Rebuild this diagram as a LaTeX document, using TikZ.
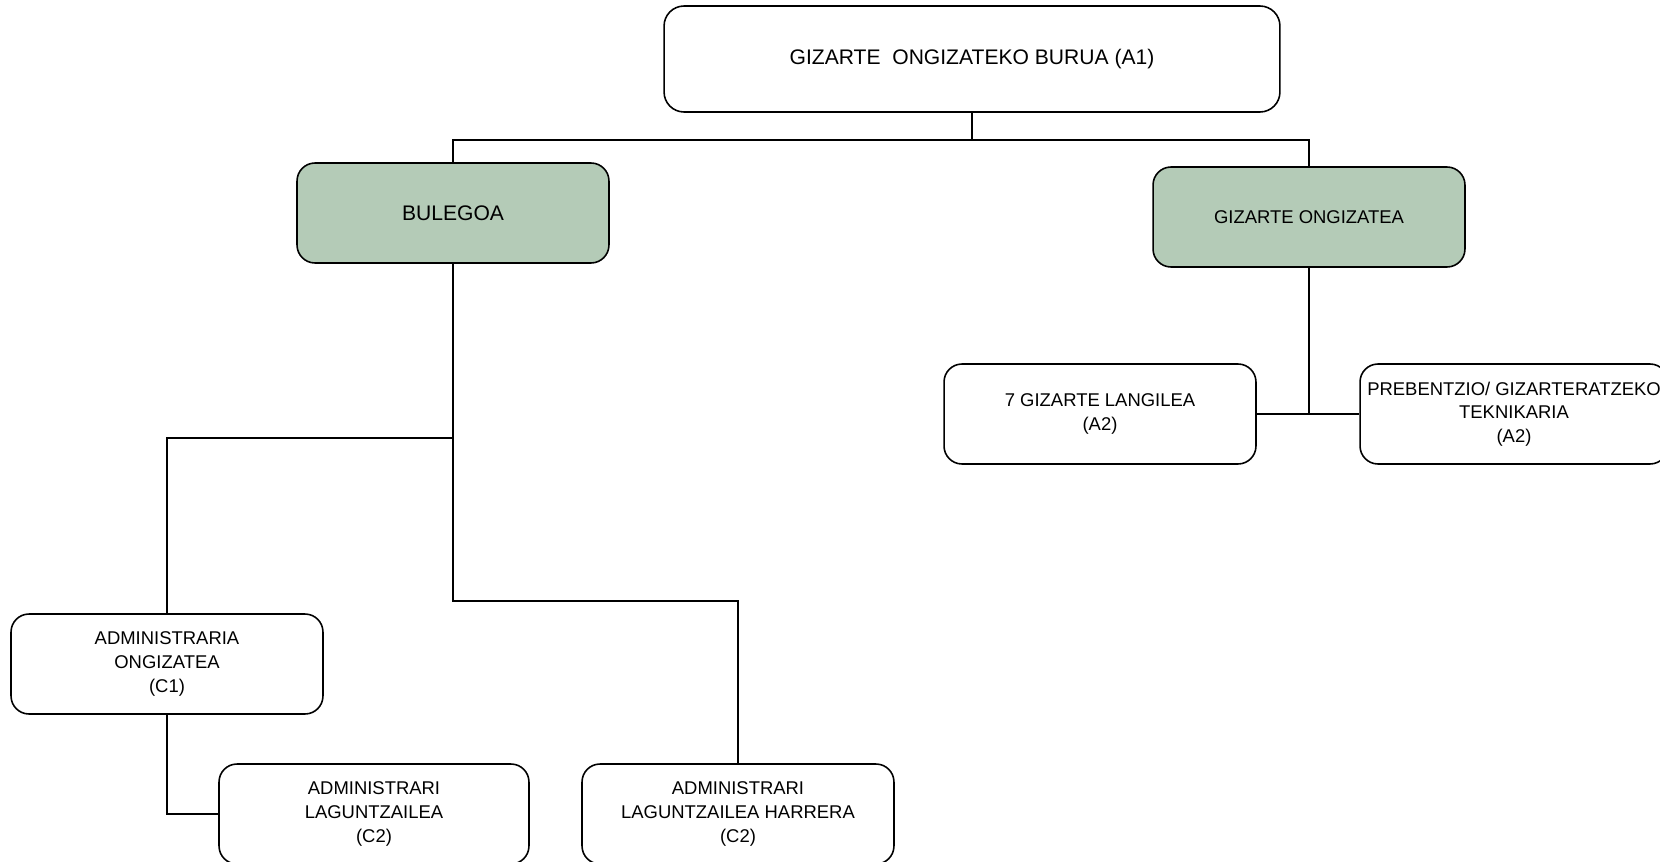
\documentclass[tikz,border=0pt]{standalone}
\usepackage{fontspec}
\setmainfont{Liberation Sans}
\usepackage{tikz}

\definecolor{unitgreen}{RGB}{180,203,183}

\begin{document}
\begin{tikzpicture}[x=0.02cm, y=-0.02cm, line width=0.9pt, every node/.style={draw, align=center, rounded corners=0.36cm, minimum width=6.24cm, minimum height=2cm, inner sep=2pt, font=\fontsize{10.5}{13.5}\selectfont}]
        \useasboundingbox (0,0) rectangle (1660,862);

        \node[minimum width=12.32cm, minimum height=2.12cm, rounded corners=0.4cm, font=\fontsize{12}{14}\selectfont] (burua) at (972,59) {GIZARTE~ ONGIZATEKO BURUA (A1)};
        \node[fill=unitgreen, font=\fontsize{12}{14}\selectfont] (bulegoa) at (453,213) {BULEGOA};
        \node[fill=unitgreen] (ongizatea) at (1309,217) {GIZARTE ONGIZATEA};
        \node (langilea) at (1100,414) {7 GIZARTE LANGILEA\\(A2)};
        \node[minimum width=6.16cm] (prebentzio) at (1514,414) {PREBENTZIO/ GIZARTERATZEKO\\TEKNIKARIA\\(A2)};
        \node (administraria) at (167,664) {ADMINISTRARIA\\ONGIZATEA\\(C1)};
        \node[minimum width=6.2cm] (laguntzailea) at (374,814) {ADMINISTRARI\\LAGUNTZAILEA\\(C2)};
        \node (harrera) at (738,814) {ADMINISTRARI\\LAGUNTZAILEA HARRERA\\(C2)};

        \coordinate (j0) at (972,140);
        \coordinate (b1) at (453,438);
        \coordinate (b2) at (453,601);
        \coordinate (g1) at (1309,414);

        \draw (burua) -- (j0);
        \draw (bulegoa) |- (j0) -| (ongizatea);
        \draw (bulegoa) -- (b2) -| (harrera);
        \draw (b1) -| (administraria);
        \draw (administraria) |- (laguntzailea);
        \draw (ongizatea) -- (g1);
        \draw (langilea) -- (prebentzio);
    \end{tikzpicture}
\end{document}
